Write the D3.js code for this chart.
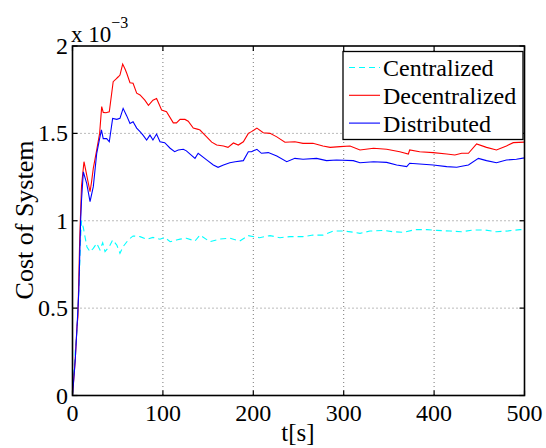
<!DOCTYPE html>
<html><head><meta charset="utf-8">
<script src="https://cdn.jsdelivr.net/npm/d3@7"></script>
<style>
html,body{margin:0;padding:0;background:#fff;}
svg{display:block;}
</style></head>
<body>
<script>
// ---- data (values in units of 1e-3) ----
const xTicks = [0, 100, 200, 300, 400, 500];
const yTicks = [0, 0.5, 1, 1.5, 2];
const yTickLabels = ["0", "0.5", "1", "1.5", "2"];
const seriesNames = ["Centralized", "Decentralized", "Distributed"];

const centralizedT = [0,3,5,7,9,10,12,13.8,16,19.4,23,26.8,30.4,33.4,36,40.7,44.4,49,52.5,56,61.7,67,74.7,82,89,96.8,102,108,115,119,126,135.5,141,152,163,174,185,194.5,207,218.5,229.5,240.6,255,266,277,288.5,300,310,318,329,344,355,366,379,392,403,417.6,430,443,456,469,482,495,500];
const centralizedV = [0,0.25,0.38,0.6,0.9,1.0,0.96,0.909,0.85,0.823,0.842,0.871,0.833,0.874,0.823,0.852,0.89,0.861,0.814,0.852,0.89,0.913,0.909,0.894,0.905,0.894,0.905,0.88,0.89,0.895,0.9,0.884,0.918,0.88,0.895,0.9,0.884,0.915,0.903,0.915,0.903,0.909,0.909,0.918,0.918,0.941,0.941,0.935,0.928,0.941,0.945,0.937,0.934,0.949,0.949,0.945,0.941,0.937,0.947,0.947,0.937,0.942,0.949,0.95];

const decentralizedT = [0,3,5,6,8,10,12.7,15,19.4,21,23,26.8,30,32.3,34,37,40.7,45,48,50.7,52.5,55.5,58,60,63.6,67,71,74.7,80,84,89,93,98.6,104,111.5,115,119,124.4,128,133.6,139,141,148.4,154,159.5,167,172,178,183.4,189,194.5,198,204,211,218.5,226,235,246,255,266,277,285,296,307,318,333,347.5,362,371.5,373,384,399,414,423,430.5,438,447,458,469,480,487.6,500];
const decentralizedV = [0,0.2,0.4,0.45,0.9,1.2,1.338,1.28,1.166,1.22,1.3,1.405,1.5,1.653,1.62,1.618,1.624,1.796,1.81,1.824,1.834,1.897,1.87,1.844,1.79,1.787,1.73,1.72,1.69,1.66,1.69,1.7,1.634,1.624,1.56,1.56,1.58,1.58,1.57,1.53,1.523,1.519,1.48,1.45,1.433,1.428,1.42,1.445,1.433,1.452,1.5,1.51,1.53,1.504,1.5,1.48,1.449,1.452,1.443,1.443,1.428,1.42,1.424,1.428,1.405,1.415,1.409,1.395,1.382,1.405,1.395,1.39,1.382,1.376,1.386,1.386,1.44,1.42,1.405,1.428,1.447,1.45];

const distributedT = [0,3,5,7,9,10,12,15.7,19.4,23,26.8,30,32,34,37.8,40.7,44.4,49,52.5,56,60,63.6,67,71,74.7,78,82,85.7,89,93,96.8,102,108,113,117,122.6,126,135.5,139,148.4,155.8,161,167,174,180,189,194.5,198,204,209,216.6,226,237,246,255,270,281,292,310.6,318,333,347.5,358.6,369.7,373,384,399,414,425,432,438,449,458,469,480,491,500];
const distributedV = [0,0.2,0.39,0.6,1.0,1.12,1.28,1.214,1.109,1.195,1.386,1.47,1.52,1.47,1.47,1.452,1.586,1.58,1.586,1.643,1.6,1.557,1.567,1.53,1.51,1.49,1.462,1.49,1.462,1.496,1.452,1.447,1.415,1.395,1.405,1.409,1.4,1.357,1.386,1.348,1.319,1.306,1.319,1.332,1.338,1.344,1.395,1.395,1.409,1.386,1.39,1.37,1.338,1.357,1.352,1.357,1.344,1.348,1.344,1.332,1.338,1.334,1.319,1.31,1.329,1.325,1.319,1.31,1.306,1.313,1.319,1.357,1.344,1.332,1.348,1.352,1.36];

const colors = ["#00ffff", "#ff0000", "#0000ff"];
const dashes = ["6,4", null, null];
const FONT = "'Liberation Serif', 'Times New Roman', Times, serif";

// ---- layout ----
const W = 546, H = 448;
const L = 72.5, R = 524.5, T = 46, B = 395.5;

const svg = d3.select("body").append("svg").attr("width", W).attr("height", H)
  .attr("font-family", FONT).style("font-family", FONT);

const x = d3.scaleLinear().domain([0, 500]).range([L, R]);
const y = d3.scaleLinear().domain([0, 2]).range([B, T]);

// grid
const grid = svg.append("g");
grid.selectAll(".gx").data(xTicks.filter(d => d > 0 && d < 500)).enter().append("line")
  .attr("x1", d => x(d)).attr("x2", d => x(d)).attr("y1", T).attr("y2", B)
  .attr("stroke", "#777").attr("stroke-width", 1).attr("stroke-dasharray", "1,3");
grid.selectAll(".gy").data(yTicks.filter(d => d > 0 && d < 2)).enter().append("line")
  .attr("y1", d => y(d)).attr("y2", d => y(d)).attr("x1", L).attr("x2", R)
  .attr("stroke", "#777").attr("stroke-width", 1).attr("stroke-dasharray", "1,3");

// clip
svg.append("clipPath").attr("id", "clip").append("rect")
  .attr("x", L).attr("y", T).attr("width", R - L).attr("height", B - T);

const series = [
  {t: centralizedT, v: centralizedV},
  {t: decentralizedT, v: decentralizedV},
  {t: distributedT, v: distributedV}
];
const line = d3.line().x(d => x(d[0])).y(d => y(d[1]));
const plot = svg.append("g").attr("clip-path", "url(#clip)");
series.forEach((s, i) => {
  const pts = s.t.map((t, k) => [t, s.v[k]]);
  plot.append("path").attr("d", line(pts)).attr("fill", "none")
    .attr("stroke", colors[i]).attr("stroke-width", 1.1)
    .attr("stroke-dasharray", dashes[i]);
});

// axes box
svg.append("rect").attr("x", L).attr("y", T).attr("width", R - L).attr("height", B - T)
  .attr("fill", "none").attr("stroke", "#000").attr("stroke-width", 1.6);

// ticks inward (all four sides)
const tk = 5;
xTicks.forEach(d => {
  svg.append("line").attr("x1", x(d)).attr("x2", x(d)).attr("y1", B).attr("y2", B - tk).attr("stroke", "#000").attr("stroke-width", 1.2);
  svg.append("line").attr("x1", x(d)).attr("x2", x(d)).attr("y1", T).attr("y2", T + tk).attr("stroke", "#000").attr("stroke-width", 1.2);
});
yTicks.forEach(d => {
  svg.append("line").attr("y1", y(d)).attr("y2", y(d)).attr("x1", L).attr("x2", L + tk).attr("stroke", "#000").attr("stroke-width", 1.2);
  svg.append("line").attr("y1", y(d)).attr("y2", y(d)).attr("x1", R).attr("x2", R - tk).attr("stroke", "#000").attr("stroke-width", 1.2);
});

// tick labels
svg.selectAll(".xl").data(xTicks).enter().append("text")
  .attr("x", d => x(d)).attr("y", 421).attr("text-anchor", "middle")
  .attr("font-family", FONT).attr("font-size", 24).text(d => d);
svg.selectAll(".yl").data(yTicks).enter().append("text")
  .attr("x", 68).attr("y", d => y(d) + 8).attr("text-anchor", "end")
  .attr("font-family", FONT).attr("font-size", 24).text((d, i) => yTickLabels[i]);

// exponent label
const ex = svg.append("text").attr("x", 71).attr("y", 42).attr("font-family", FONT).attr("font-size", 23);
ex.append("tspan").text("x 10");
ex.append("tspan").attr("font-size", 16).attr("dy", -14).text("\u22123");

// axis labels
svg.append("text").attr("x", 298).attr("y", 441).attr("text-anchor", "middle")
  .attr("font-family", FONT).attr("font-size", 25).text("t[s]");
svg.append("text").attr("transform", "translate(33,220) rotate(-90)")
  .attr("text-anchor", "middle").attr("font-family", FONT).attr("font-size", 26).text("Cost of System");

// legend
const lg = svg.append("g");
lg.append("rect").attr("x", 343).attr("y", 51.5).attr("width", 180).attr("height", 88)
  .attr("fill", "#fff").attr("stroke", "#000").attr("stroke-width", 1.3);
seriesNames.forEach((n, i) => {
  const yy = 67.5 + i * 27.8;
  lg.append("line").attr("x1", 349).attr("x2", 380).attr("y1", yy).attr("y2", yy)
    .attr("stroke", colors[i]).attr("stroke-width", 1.1).attr("stroke-dasharray", dashes[i]);
  lg.append("text").attr("x", 383).attr("y", yy + 8.5).attr("font-family", FONT).attr("font-size", 24).text(n);
});
</script>
</body></html>
